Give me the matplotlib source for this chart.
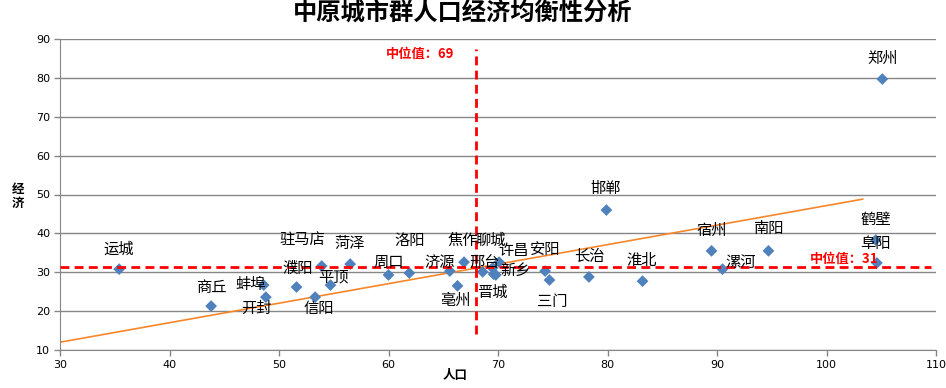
import matplotlib
matplotlib.use('Agg')
import matplotlib.pyplot as plt

plt.rcParams['font.family'] = ['Noto Sans CJK SC', 'DejaVu Sans']

# Data
cities = ['运城', '商丘', '蚌埠', '开封', '濮阳', '驻马店', '菏泽', '平顶', '信阳',
          '周口', '洛阳', '济源', '焦作', '亳州', '邢台', '聊城', '许昌', '新乡',
          '晋城', '安阳', '三门', '长治', '淮北', '邯郸', '宿州', '漯河', '南阳',
          '鹤壁', '阜阳', '郑州']
population = [35.4, 43.8, 48.6, 48.8, 51.6, 53.9, 56.5, 54.7, 53.3,
              60.0, 61.9, 65.6, 66.9, 66.3, 68.6, 70.1, 69.5, 69.8,
              69.6, 74.3, 74.7, 78.3, 83.2, 79.9, 89.5, 90.5, 94.7,
              104.5, 104.6, 105.1]
economy = [30.8, 21.3, 26.7, 23.6, 26.2, 31.6, 32.1, 26.7, 23.6,
           29.3, 29.8, 30.3, 32.6, 26.5, 30.1, 32.6, 31.1, 29.3,
           29.5, 30.3, 28.0, 28.8, 27.7, 46.0, 35.5, 30.8, 35.5,
           38.3, 32.4, 79.7]

median_pop = 68.0
median_eco = 31.3
trend_x = [30, 103.3]
trend_y = [12.0, 48.8]

# label offsets in pixels (dx, dy) relative to each point
offsets = [(0, 20), (0, 19), (-13, 1), (-9, -11), (1, 19), (-19, 26), (-1, 21), (3, 8), (4, -11),
           (0, 13), (0, 33), (-10, 9), (-1, 22), (-2, -15), (2, 9), (-8, 22), (21, 17), (20, 5),
           (-1, -18), (0, 22), (3, -21), (0, 20), (-1, 21), (-1, 22), (0, 21), (18, 7), (0, 22),
           (0, 21), (-1, 20), (0, 21)]

fig = plt.figure(figsize=(9.46, 3.88), dpi=100)
ax = fig.add_axes([60/946, 1 - 350/388, 876/946, 311/388])

ax.set_xlim(30, 110)
ax.set_ylim(10, 90)
ax.set_xticks(range(30, 111, 10))
ax.set_yticks(range(10, 91, 10))
ax.tick_params(labelsize=8, length=4, color='#868686', width=1, pad=3)
for lab in ax.get_xticklabels() + ax.get_yticklabels():
    lab.set_family('DejaVu Sans')
ax.grid(axis='y', color='#868686', lw=1)
ax.set_axisbelow(True)
for s in ['top', 'right']:
    ax.spines[s].set_visible(False)
for s in ['left', 'bottom']:
    ax.spines[s].set_color('#868686')

ax.plot(trend_x, trend_y, color='#F7862A', lw=1.2, zorder=2)
ax.scatter(population, economy, marker='D', s=36, color='#4F81BD',
           edgecolors='none', zorder=3)

ax.plot([median_pop, median_pop], [14, 87.5], color='#FF0000', lw=2,
        dashes=(3.2, 1.9), zorder=4)
ax.plot([30, 109.5], [median_eco, median_eco], color='#FF0000', lw=2,
        dashes=(3.2, 1.9), zorder=4)
ax.text(62.9, 86.2, '中位值：69', color='#FF0000', fontsize=9.5,
        fontweight='bold', ha='center', va='center')
ax.text(101.6, 33.5, '中位值：31', color='#FF0000', fontsize=9.5,
        fontweight='bold', ha='center', va='center')

for name, x, y, (dx, dy) in zip(cities, population, economy, offsets):
    ax.annotate(name, (x, y), xytext=(dx, dy), textcoords='offset pixels',
                ha='center', va='center', fontsize=11, zorder=5)

fig.text(463/946, 1 - 14/388, '中原城市群人口经济均衡性分析', fontsize=17.5,
         fontweight='bold', ha='center', va='center')
fig.text(455/946, 1 - 376/388, '人口', fontsize=9, fontweight='bold',
         ha='center', va='center')
fig.text(18/946, 1 - 196/388, '经\n济', fontsize=9, fontweight='bold',
         ha='center', va='center', linespacing=1.1)

fig.savefig('out.png', dpi=100)
